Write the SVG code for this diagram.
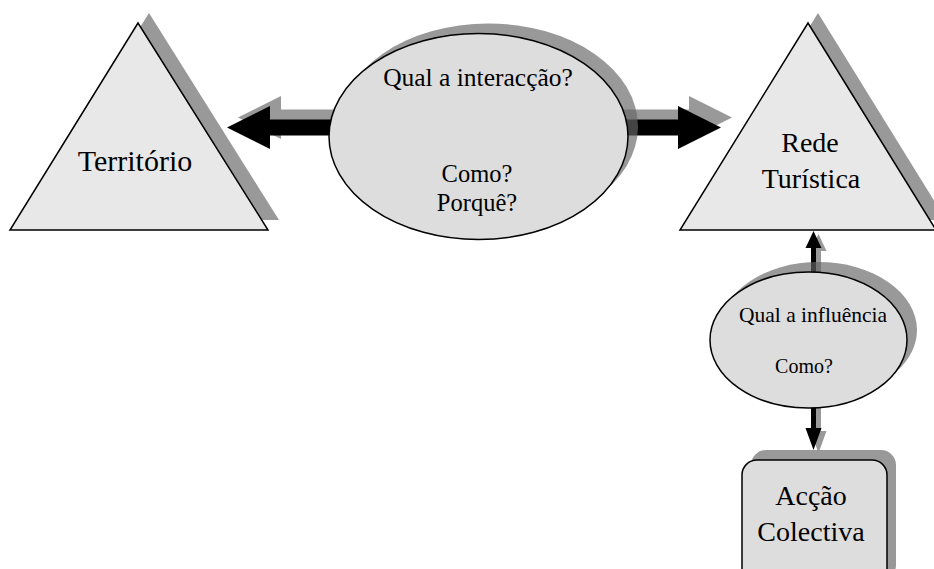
<svg xmlns="http://www.w3.org/2000/svg" width="934" height="569" viewBox="0 0 934 569">
<style>
.shadow{fill:#999999;stroke:none}
.tri{fill:#e8e8e8;stroke:#000;stroke-width:1.5;stroke-linejoin:miter}
.ell{fill:#dddddd;stroke:#000;stroke-width:1.5}
.eshadow{fill:#666666;fill-opacity:0.667;stroke:none}
.arrow{fill:#000;stroke:none}
</style>
<rect width="934" height="569" fill="#ffffff"/>
<g font-family="'Liberation Serif', 'Times New Roman', serif" text-anchor="middle" fill="#000">
<g id="territorio">
<polygon class="shadow" points="149,13 279,220 19,220"/>
<polygon class="tri" points="138,23 268,230 10,230"/>
<text font-size="30" x="135" y="171">Território</text>
</g>
<g id="rede-turistica">
<polygon class="shadow" points="818,13 946,220 690,220"/>
<polygon class="tri" points="808,23 936,230 680,230"/>
<text font-size="28" x="810" y="152">Rede</text>
<text font-size="28" x="811" y="188">Turística</text>
</g>
<g id="connectors">
<polygon class="shadow" transform="translate(11,-10)" points="227,127.5 270,106 270,119.5 678,119.5 678,106 721,127.5 678,149 678,135.5 270,135.5 270,149"/>
<polygon class="arrow" points="227,127.5 270,106 270,119.5 678,119.5 678,106 721,127.5 678,149 678,135.5 270,135.5 270,149"/>
<polygon class="shadow" transform="translate(5,3)" points="813.5,231 821.5,248 816,248 816,428 821.5,428 813.5,450 805.5,428 811,428 811,248 805.5,248"/>
<polygon class="arrow" points="813.5,231 821.5,248 816,248 816,428 821.5,428 813.5,450 805.5,428 811,428 811,248 805.5,248"/>
</g>
<g id="interaccao">
<ellipse class="eshadow" cx="488.5" cy="126.5" rx="149.5" ry="103"/>
<ellipse class="ell" cx="478.5" cy="136.5" rx="149.5" ry="103"/>
<text font-size="25.5" x="478" y="86">Qual a interacção?</text>
<text font-size="24.5" x="477" y="182">Como?</text>
<text font-size="24.5" x="477" y="211">Porquê?</text>
</g>
<g id="influencia">
<ellipse class="eshadow" cx="818.5" cy="330" rx="98.5" ry="68"/>
<ellipse class="ell" cx="808.5" cy="340" rx="98.5" ry="68"/>
<text font-size="21.5" x="813" y="322">Qual a influência</text>
<text font-size="20" x="804" y="373">Como?</text>
</g>
<g id="accao-colectiva">
<rect class="shadow" x="751" y="450" width="145" height="130" rx="15"/>
<rect class="ell" x="742" y="460" width="145" height="130" rx="15"/>
<text font-size="28" x="811" y="505">Acção</text>
<text font-size="28" x="811" y="541">Colectiva</text>
</g>
</g>
</svg>
